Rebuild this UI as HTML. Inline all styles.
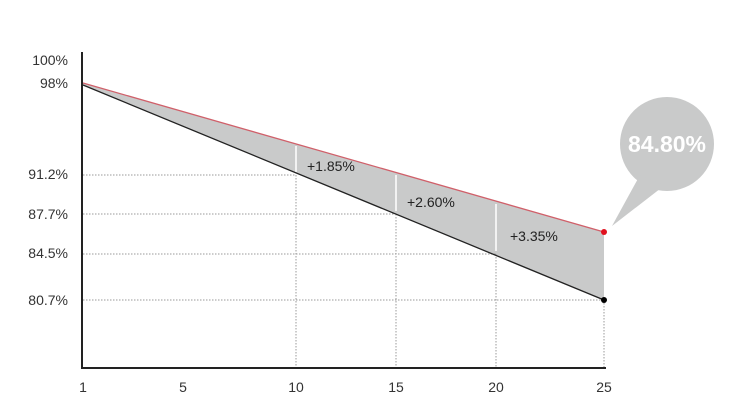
<!DOCTYPE html>
<html><head><style>body{margin:0;background:#fff}</style></head><body>
<svg width="732" height="412" xmlns="http://www.w3.org/2000/svg" font-family="Liberation Sans, sans-serif">
<rect width="732" height="412" fill="#fff"/>
<polygon points="83,83 604,232 604,300 83,85" fill="#c9caca"/>
<g stroke="#999" stroke-dasharray="1.5,1.5" stroke-width="1">
<line x1="83" y1="175" x2="296" y2="175"/>
<line x1="83" y1="214" x2="396" y2="214"/>
<line x1="83" y1="254" x2="496" y2="254"/>
<line x1="83" y1="300" x2="604" y2="300"/>
<line x1="296" y1="175" x2="296" y2="368"/>
<line x1="396" y1="214" x2="396" y2="368"/>
<line x1="496" y1="254" x2="496" y2="368"/>
<line x1="604" y1="300" x2="604" y2="368"/>
</g>
<g stroke="#fff" stroke-width="1.5">
<line x1="296" y1="146" x2="296" y2="172"/>
<line x1="396" y1="175" x2="396" y2="211"/>
<line x1="496" y1="204" x2="496" y2="251"/>
</g>
<line x1="83" y1="83" x2="604" y2="232" stroke="#d0606a" stroke-width="1.3"/>
<line x1="83" y1="85" x2="604" y2="300" stroke="#222" stroke-width="1.3"/>
<line x1="82" y1="52" x2="82" y2="369" stroke="#222" stroke-width="2"/>
<line x1="81" y1="368" x2="606" y2="368" stroke="#222" stroke-width="2"/>
<circle cx="604" cy="232" r="3" fill="#e0101e"/>
<circle cx="604" cy="300" r="3" fill="#000"/>
<circle cx="667" cy="144" r="47" fill="#c9caca"/>
<polygon points="612,226 640,175 665,185" fill="#c9caca"/>
<text x="667" y="152" font-size="23" font-weight="bold" fill="#fff" text-anchor="middle">84.80%</text>
<g font-size="14" fill="#222">
<text x="307" y="171">+1.85%</text>
<text x="407" y="207">+2.60%</text>
<text x="510" y="241">+3.35%</text>
</g>
<g font-size="14" fill="#333" text-anchor="end">
<text x="68" y="65">100%</text>
<text x="68" y="88">98%</text>
<text x="68" y="179">91.2%</text>
<text x="68" y="219">87.7%</text>
<text x="68" y="258">84.5%</text>
<text x="68" y="305">80.7%</text>
</g>
<g font-size="14" fill="#333" text-anchor="middle">
<text x="83" y="392">1</text>
<text x="183" y="392">5</text>
<text x="296" y="392">10</text>
<text x="396" y="392">15</text>
<text x="496" y="392">20</text>
<text x="604" y="392">25</text>
</g>
</svg>
</body></html>
